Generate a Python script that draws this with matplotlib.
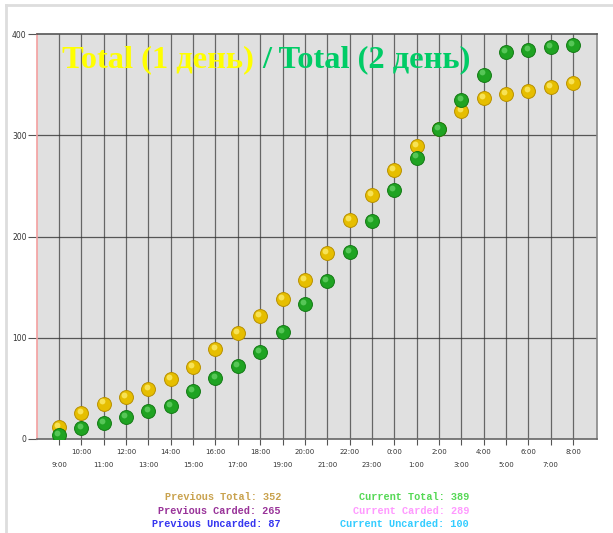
import matplotlib
matplotlib.use("Agg")
import matplotlib.pyplot as plt
from matplotlib.lines import Line2D
import matplotlib.transforms as mtransforms

hours = ["9:00", "10:00", "11:00", "12:00", "13:00", "14:00", "15:00", "16:00",
         "17:00", "18:00", "19:00", "20:00", "21:00", "22:00", "23:00", "0:00",
         "1:00", "2:00", "3:00", "4:00", "5:00", "6:00", "7:00", "8:00"]
previous_total = [12, 26, 35, 41, 49, 59, 71, 89, 105, 121, 138, 157, 184, 216,
                  241, 266, 289, 306, 324, 337, 341, 344, 348, 352]
current_total = [4, 11, 16, 22, 28, 33, 47, 60, 72, 86, 106, 133, 156, 185,
                 215, 246, 278, 306, 335, 360, 382, 384, 387, 389]
y_ticks = [0, 100, 200, 300, 400]

summary_left = [("Previous Total: 352", "#C9A24E"),
                ("Previous Carded: 265", "#993399"),
                ("Previous Uncarded: 87", "#3535F0")]
summary_right = [("Current Total: 389", "#55D855"),
                 ("Current Carded: 289", "#FF99FF"),
                 ("Current Uncarded: 100", "#33CCFF")]

W, H = 613, 533
fig = plt.figure(figsize=(W / 100, H / 100), dpi=100)
fig.patch.set_facecolor("white")

ax = fig.add_axes([37 / W, (H - 439) / H, (597 - 37) / W, (439 - 34) / H])
ax.set_facecolor("#E0E0E0")
x = list(range(len(hours)))
ax.set_xlim(-0.985, 24.07)
ax.set_ylim(0, 400)

# grid
for xi in x:
    ax.axvline(xi, color="#333333", lw=0.9, alpha=0.7, zorder=1)
for yv in y_ticks[1:4]:
    ax.axhline(yv, color="#333333", lw=0.9, alpha=0.8, zorder=1)

for side in ["top", "right", "bottom", "left"]:
    ax.spines[side].set_linewidth(1.2)
ax.spines["top"].set_color("#555555")
ax.spines["right"].set_color("#888888")
ax.spines["bottom"].set_color("#666666")
ax.spines["left"].set_color("#F4A0A0")

# ticks
ax.set_yticks(y_ticks)
ax.set_yticklabels([str(v) for v in y_ticks])
ax.tick_params(axis="y", length=6.5, width=0.8, color="#555555", pad=1,
               labelsize=5.5, labelcolor="#333333")
even = [i for i in x if i % 2 == 0]
odd = [i for i in x if i % 2 == 1]
ax.set_xticks(even)
ax.set_xticklabels([hours[i] for i in even])
ax.set_xticks(odd, minor=True)
ax.set_xticklabels([hours[i] for i in odd], minor=True)
ax.tick_params(axis="x", which="major", length=4.5, width=0.8, color="#555555",
               pad=12, labelsize=5, labelcolor="#333333")
ax.tick_params(axis="x", which="minor", length=4.5, width=0.8, color="#555555",
               pad=3, labelsize=5, labelcolor="#333333")

# ball markers
def balls(vals, face, edge, light, z):
    ax.plot(x, vals, ls="none", marker="o", ms=10, mfc=face, mec=edge,
            mew=0.7, zorder=z)
    tr = mtransforms.offset_copy(ax.transData, fig=fig, x=-1.3, y=1.5, units="points")
    ax.plot(x, vals, ls="none", marker="o", ms=4.2, mfc=light, mec="none",
            alpha=0.7, zorder=z + 0.1, transform=tr)

balls(previous_total, "#E6BE00", "#B89000", "#FFF27A", 3)
balls(current_total, "#1FA322", "#137A15", "#6ED66E", 4)

# title
t1 = ax.text(62 / W, (H - 67) / H, "Total (1 день) ", transform=fig.transFigure,
             fontsize=23.4, fontweight="bold", family="Liberation Serif",
             color="#FFFF00", ha="left", va="baseline", zorder=10)
ax.annotate("/ Total (2 день)", xy=(1, 0), xycoords=t1, xytext=(0, 0),
            textcoords="offset points", fontsize=23.4, fontweight="bold",
            family="Liberation Serif", color="#00CC66", ha="left", va="bottom",
            zorder=10)

# summary text
rows_y = [497, 511, 524]
for (txt, col), yy in zip(summary_left, rows_y):
    fig.text(281 / W, (H - yy) / H, txt, ha="right", va="center",
             family="Liberation Mono", fontweight="bold", fontsize=7.4, color=col)
for (txt, col), yy in zip(summary_right, rows_y):
    fig.text(469 / W, (H - yy) / H, txt, ha="right", va="center",
             family="Liberation Mono", fontweight="bold", fontsize=7.4, color=col)

# outer frame (top and left)
fig.add_artist(Line2D([6 / W, 1], [(H - 5) / H, (H - 5) / H],
                      transform=fig.transFigure, color="#DDDDDD", lw=2))
fig.add_artist(Line2D([6 / W, 6 / W], [0, (H - 5) / H],
                      transform=fig.transFigure, color="#DDDDDD", lw=2))

fig.savefig("out.png", dpi=100)
